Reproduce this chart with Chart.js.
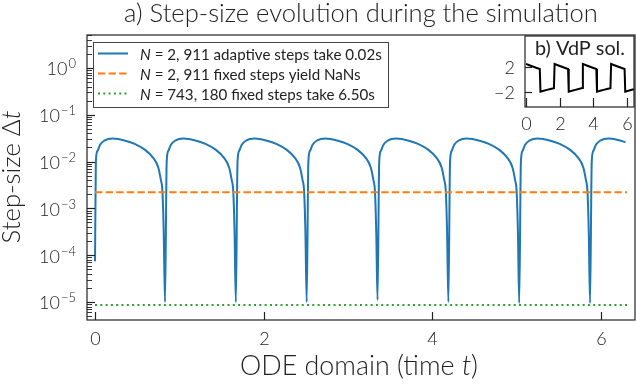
<!DOCTYPE html>
<html>
<head>
<meta charset="utf-8">
<script src="https://cdn.jsdelivr.net/npm/chart.js@4"></script>
<style>
  body { margin: 0; background: #fff; }
  #wrap { position: relative; width: 636px; height: 384px; }
  #wrap canvas { position: absolute; left: 0; top: 0; }
</style>
</head>
<body>
<div id="wrap">
  <canvas id="stepChart" width="636" height="384"></canvas>
  <canvas id="vdpChart" width="636" height="384"></canvas>
</div>
<script>
// adaptive step sizes (one line per cycle, dip value at the end)
const adaptiveT = [
  0, 0.01, 0.03, 0.06, 0.11, 0.21, 0.36, 0.47, 0.59, 0.69, 0.75, 0.78, 0.80, 0.815, 0.83,
  0.85, 0.87, 0.90, 0.95, 1.05, 1.20, 1.31, 1.43, 1.53, 1.59, 1.62, 1.64, 1.655, 1.67,
  1.69, 1.71, 1.74, 1.79, 1.89, 2.04, 2.15, 2.27, 2.37, 2.43, 2.46, 2.48, 2.495, 2.51,
  2.53, 2.55, 2.58, 2.63, 2.73, 2.88, 2.99, 3.11, 3.21, 3.27, 3.30, 3.32, 3.335, 3.35,
  3.37, 3.39, 3.42, 3.47, 3.57, 3.72, 3.83, 3.95, 4.05, 4.11, 4.14, 4.16, 4.175, 4.19,
  4.21, 4.23, 4.26, 4.31, 4.41, 4.56, 4.67, 4.79, 4.89, 4.95, 4.98, 5.00, 5.015, 5.03,
  5.05, 5.07, 5.10, 5.15, 5.25, 5.40, 5.51, 5.63, 5.73, 5.79, 5.82, 5.84, 5.855, 5.87,
  5.89, 5.91, 5.94, 5.99, 6.09, 6.20, 6.29
];
const adaptiveDt = [
  7.4e-5, 1.0e-2, 1.7e-2, 2.3e-2, 2.8e-2, 3.1e-2, 2.8e-2, 2.4e-2, 1.8e-2, 1.2e-2, 7.5e-3, 4.1e-3, 2.2e-3, 3e-4, 1.0e-5,
  1.0e-2, 1.7e-2, 2.3e-2, 2.8e-2, 3.1e-2, 2.8e-2, 2.4e-2, 1.8e-2, 1.2e-2, 7.5e-3, 4.1e-3, 2.2e-3, 3e-4, 1.0e-5,
  1.0e-2, 1.7e-2, 2.3e-2, 2.8e-2, 3.1e-2, 2.8e-2, 2.4e-2, 1.8e-2, 1.2e-2, 7.5e-3, 4.1e-3, 2.2e-3, 3e-4, 1.0e-5,
  1.0e-2, 1.7e-2, 2.3e-2, 2.8e-2, 3.1e-2, 2.8e-2, 2.4e-2, 1.8e-2, 1.2e-2, 7.5e-3, 4.1e-3, 2.2e-3, 3e-4, 1.1e-5,
  1.0e-2, 1.7e-2, 2.3e-2, 2.8e-2, 3.1e-2, 2.8e-2, 2.4e-2, 1.8e-2, 1.2e-2, 7.5e-3, 4.1e-3, 2.2e-3, 3e-4, 1.0e-5,
  1.0e-2, 1.7e-2, 2.3e-2, 2.8e-2, 3.1e-2, 2.8e-2, 2.4e-2, 1.8e-2, 1.2e-2, 7.5e-3, 4.1e-3, 2.2e-3, 3e-4, 9.5e-6,
  1.0e-2, 1.7e-2, 2.3e-2, 2.8e-2, 3.1e-2, 2.8e-2, 2.4e-2, 1.8e-2, 1.2e-2, 7.5e-3, 4.1e-3, 2.2e-3, 3e-4, 9.5e-6,
  1.0e-2, 1.7e-2, 2.3e-2, 2.8e-2, 3.1e-2, 2.9e-2, 2.6e-2
];

// the two fixed-step runs (constant step size)
const fixedCoarseT = [0, 6.31];
const fixedCoarseDt = [2.2e-3, 2.2e-3];
const fixedFineT = [0, 6.31];
const fixedFineDt = [8.6e-6, 8.6e-6];

// inset: Van der Pol solution
const vdpT = [
  0, 0.2, 0.4, 0.6, 0.82, 0.86, 1.05, 1.25, 1.45, 1.66,
  1.70, 1.89, 2.09, 2.29, 2.50, 2.54, 2.73, 2.93, 3.13, 3.34,
  3.38, 3.57, 3.77, 3.97, 4.18, 4.22, 4.41, 4.61, 4.81, 5.02,
  5.06, 5.25, 5.45, 5.65, 5.86, 5.90, 6.09, 6.29, 6.45
];
const vdpX = [
  2.4, 2.2, 2.0, 1.8, 1.6, -1.9, -1.75, -1.62, -1.48, -1.35,
  2.4, 2.2, 2.0, 1.8, 1.6, -1.9, -1.75, -1.62, -1.48, -1.35,
  2.4, 2.2, 2.0, 1.8, 1.6, -1.9, -1.75, -1.62, -1.48, -1.35,
  2.4, 2.2, 2.0, 1.8, 1.6, -1.9, -1.75, -1.6, -1.5
];

const legendTexts = [
  [["N", true], [" = 2, 911 adaptive steps take 0.02s", false]],
  [["N", true], [" = 2, 911 fixed steps yield NaNs", false]],
  [["N", true], [" = 743, 180 fixed steps take 6.50s", false]]
];
const xTicks = [0, 2, 4, 6];
const yExponents = [-5, -4, -3, -2, -1, 0];
const insetXTicks = [0, 2, 4, 6];
const insetYTicks = [2, -2];

const FONT = 'Lato, "DejaVu Sans", sans-serif';
const INK = "#222";

const colors = { adaptive: "#1f77b4", coarse: "#ff7f0e", fine: "#2ca02c" };

function toPoints(xs, ys) {
  return xs.map((x, i) => ({ x, y: ys[i] }));
}

function fontFor(italic, size, weight) {
  return (italic ? "italic " : "") + (weight || 300) + " " + size + "px " + FONT;
}

function richWidth(ctx, parts, size, weight) {
  let w = 0;
  parts.forEach(([text, italic]) => {
    ctx.font = fontFor(italic, size, weight);
    w += ctx.measureText(text).width;
  });
  return w;
}

function drawRich(ctx, parts, x, y, size, align, weight) {
  const w = richWidth(ctx, parts, size, weight);
  let cx = align === "center" ? x - w / 2 : align === "right" ? x - w : x;
  ctx.textAlign = "left";
  ctx.textBaseline = "alphabetic";
  ctx.fillStyle = INK;
  parts.forEach(([text, italic]) => {
    ctx.font = fontFor(italic, size, weight);
    ctx.fillText(text, cx, y);
    cx += ctx.measureText(text).width;
  });
}

function fitSize(ctx, parts, width, weight) {
  return (100 * width) / richWidth(ctx, parts, 100, weight);
}

function supLabel(e) {
  return e < 0 ? "\u2212" + -e : String(e);
}

const stepDecor = {
  id: "stepDecor",
  afterDraw(chart) {
    const ctx = chart.ctx;
    const a = chart.chartArea;
    const xs = chart.scales.x;
    const ys = chart.scales.y;
    ctx.save();

    // ticks (inward)
    ctx.strokeStyle = INK;
    ctx.lineWidth = 1.2;
    xTicks.forEach((v) => {
      const px = Math.round(xs.getPixelForValue(v)) + 0.5;
      ctx.beginPath();
      ctx.moveTo(px, a.bottom);
      ctx.lineTo(px, a.bottom - 8);
      ctx.stroke();
      drawRich(ctx, [[String(v), false]], px, 345, 18, "center");
    });
    for (let e = -6; e <= 0; e++) {
      for (let m = 1; m <= 9; m++) {
        const v = m * Math.pow(10, e);
        if (v < ys.min || v > ys.max) continue;
        const py = Math.round(ys.getPixelForValue(v)) + 0.5;
        ctx.lineWidth = m === 1 ? 1.2 : 0.9;
        ctx.beginPath();
        ctx.moveTo(a.left, py);
        ctx.lineTo(a.left + (m === 1 ? 8 : 5), py);
        ctx.stroke();
      }
    }
    yExponents.forEach((e) => {
      const py = ys.getPixelForValue(Math.pow(10, e));
      const sup = supLabel(e);
      ctx.font = fontFor(false, 13);
      const sw = ctx.measureText(sup).width;
      drawRich(ctx, [["10", false]], 76 - sw - 1, py + 7.5, 18, "right");
      drawRich(ctx, [[sup, false]], 76 - sw, py + 0.5, 13, "left");
    });

    // spines
    ctx.lineWidth = 1.2;
    ctx.strokeStyle = INK;
    ctx.strokeRect(a.left, a.top, a.right - a.left, a.bottom - a.top);

    // titles
    const title = [["a) Step-size evolution during the simulation", false]];
    drawRich(ctx, title, 361, 21.5, fitSize(ctx, title, 474), "center");
    const xTitle = [["ODE domain (time ", false], ["t", true], [")", false]];
    drawRich(ctx, xTitle, 359, 375, fitSize(ctx, xTitle, 238), "center");
    const yTitle = [["Step-size \u0394", false], ["t", true]];
    ctx.save();
    ctx.translate(20, 177);
    ctx.rotate(-Math.PI / 2);
    drawRich(ctx, yTitle, 0, 0, fitSize(ctx, yTitle, 133), "center");
    ctx.restore();

    // legend
    ctx.fillStyle = "rgba(255,255,255,0.85)";
    ctx.fillRect(93, 42, 295, 65);
    ctx.strokeStyle = "#444";
    ctx.lineWidth = 1;
    ctx.strokeRect(93.5, 42.5, 295, 65);
    const size = fitSize(ctx, legendTexts[0], 242, 400);
    chart.data.datasets.forEach((ds, i) => {
      const ly = 53.5 + i * 20;
      ctx.strokeStyle = ds.borderColor;
      ctx.lineWidth = ds.borderWidth;
      ctx.setLineDash(ds.borderDash || []);
      ctx.beginPath();
      ctx.moveTo(98, ly);
      ctx.lineTo(128, ly);
      ctx.stroke();
      ctx.setLineDash([]);
      drawRich(ctx, legendTexts[i], 140, ly + 6, size, "left", 400);
    });
    ctx.restore();
  }
};

new Chart(document.getElementById("stepChart"), {
  type: "scatter",
  data: {
    datasets: [
      {
        label: "adaptive",
        data: toPoints(adaptiveT, adaptiveDt),
        showLine: true,
        borderColor: colors.adaptive,
        borderWidth: 2,
        pointRadius: 0,
        cubicInterpolationMode: "monotone",
        order: 3
      },
      {
        label: "fixed coarse",
        data: toPoints(fixedCoarseT, fixedCoarseDt),
        showLine: true,
        borderColor: colors.coarse,
        borderWidth: 2,
        borderDash: [7.4, 3.2],
        pointRadius: 0,
        order: 2
      },
      {
        label: "fixed fine",
        data: toPoints(fixedFineT, fixedFineDt),
        showLine: true,
        borderColor: colors.fine,
        borderWidth: 2,
        borderDash: [2, 3.3],
        pointRadius: 0,
        order: 1
      }
    ]
  },
  options: {
    responsive: false,
    animation: false,
    events: [],
    layout: { padding: { left: 87, top: 35, right: 1, bottom: 64 } },
    plugins: { legend: { display: false }, tooltip: { enabled: false } },
    scales: {
      x: { type: "linear", min: -0.095, max: 6.403, display: false },
      y: { type: "logarithmic", min: 4.12e-6, max: 5.07, display: false }
    }
  },
  plugins: [stepDecor]
});

const vdpDecor = {
  id: "vdpDecor",
  beforeDatasetsDraw(chart) {
    const a = chart.chartArea;
    chart.ctx.save();
    chart.ctx.fillStyle = "#fff";
    chart.ctx.fillRect(a.left, a.top, a.right - a.left, a.bottom - a.top);
    chart.ctx.restore();
  },
  afterDraw(chart) {
    const ctx = chart.ctx;
    const a = chart.chartArea;
    const xs = chart.scales.x;
    const ys = chart.scales.y;
    ctx.save();
    ctx.strokeStyle = INK;
    ctx.lineWidth = 1.2;
    insetXTicks.forEach((v) => {
      const px = Math.round(xs.getPixelForValue(v)) + 0.5;
      ctx.beginPath();
      ctx.moveTo(px, a.bottom);
      ctx.lineTo(px, a.bottom - 9);
      ctx.stroke();
      drawRich(ctx, [[String(v), false]], px, 130, 18, "center");
    });
    insetYTicks.forEach((v) => {
      const py = Math.round(ys.getPixelForValue(v)) + 0.5;
      ctx.beginPath();
      ctx.moveTo(a.left, py);
      ctx.lineTo(a.left + 7, py);
      ctx.stroke();
      const txt = v < 0 ? "\u2212" + -v : String(v);
      drawRich(ctx, [[txt, false]], 515, py + 6.5, 18, "right");
    });
    ctx.strokeRect(a.left, a.top, a.right - a.left, a.bottom - a.top);
    const t = [["b) VdP sol.", false]];
    drawRich(ctx, t, 580, 55, fitSize(ctx, t, 90, 400), "center", 400);
    ctx.restore();
  }
};

new Chart(document.getElementById("vdpChart"), {
  type: "scatter",
  data: {
    datasets: [
      {
        label: "VdP",
        data: toPoints(vdpT, vdpX),
        showLine: true,
        borderColor: "#000",
        borderWidth: 2,
        pointRadius: 0,
        tension: 0
      }
    ]
  },
  options: {
    responsive: false,
    animation: false,
    events: [],
    layout: { padding: { left: 525, top: 36, right: 2, bottom: 277 } },
    plugins: { legend: { display: false }, tooltip: { enabled: false } },
    scales: {
      x: { type: "linear", min: -0.06, max: 6.42, display: false },
      y: { type: "linear", min: -4.28, max: 6.73, display: false }
    }
  },
  plugins: [vdpDecor]
});
</script>
</body>
</html>
